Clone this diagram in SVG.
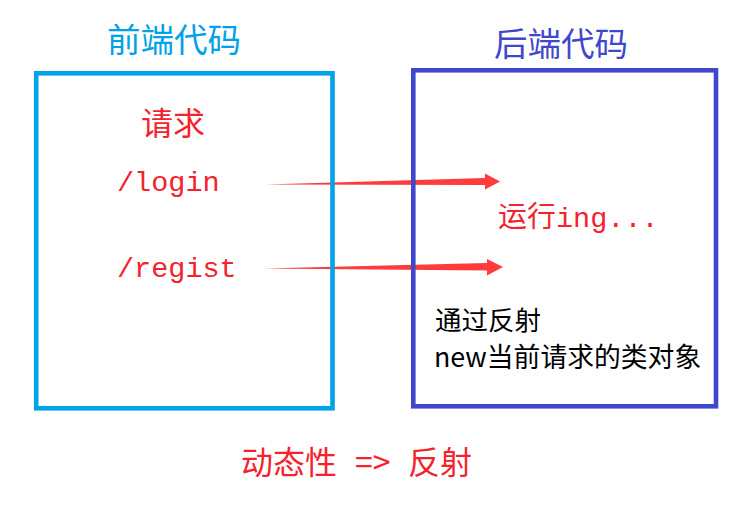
<svg xmlns="http://www.w3.org/2000/svg" width="752" height="506" viewBox="0 0 752 506">
<style>
.cjk{font-family:"Noto Sans CJK SC","Noto Sans",sans-serif;}
.mono{font-family:"Liberation Mono","Noto Sans CJK SC",monospace;}
.red{fill:#F5222D;}
.arrow{fill:#FF3B3B;}
</style>
<rect width="752" height="506" fill="#ffffff"/>
<g id="connectors">
<polygon class="arrow" points="265,184.5 485,178 485,185"/>
<polygon class="arrow" points="485,173.5 500,181.5 485,189.5"/>
<polygon class="arrow" points="263,268.5 487,263 487,270.5"/>
<polygon class="arrow" points="487,259 503,267 487,275.5"/>
</g>
<g id="frontend">
<rect x="36.2" y="73.3" width="296.3" height="335" fill="none" stroke="#00A2E8" stroke-width="4.6"/>
<text class="cjk" x="107" y="52" font-size="33.5" fill="#00A2E8">前端代码</text>
<text class="cjk red" x="141" y="135" font-size="32">请求</text>
<text class="mono red" x="117" y="191" font-size="28.5">/login</text>
<text class="mono red" x="117" y="277" font-size="28.5">/regist</text>
</g>
<g id="backend">
<rect x="413.3" y="70.3" width="302.7" height="336" fill="none" stroke="#3F48CC" stroke-width="4.6"/>
<text class="cjk" x="494" y="56" font-size="33.5" fill="#3F48CC">后端代码</text>
<text class="red" x="498" y="227" font-size="29"><tspan class="cjk">运行</tspan><tspan class="mono" font-size="28.5">ing...</tspan></text>
<text class="cjk" x="435" y="329.5" font-size="26.5" fill="#000">通过反射</text>
<text class="cjk" x="434" y="367" font-size="26.8" fill="#000">new当前请求的类对象</text>
</g>
<g id="caption">
<text class="cjk red" x="241" y="474" font-size="32">动态性</text>
<text class="cjk red" x="355" y="474" font-size="32">=&gt;</text>
<text class="cjk red" x="408" y="474" font-size="32">反射</text>
</g>
</svg>
